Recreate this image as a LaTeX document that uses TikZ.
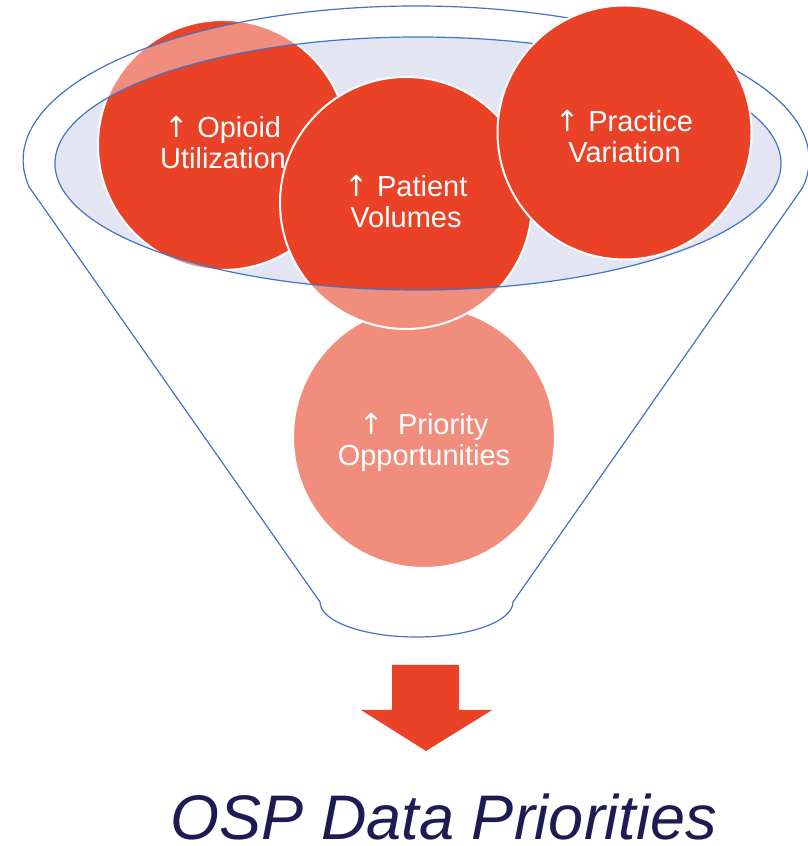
\documentclass[tikz,border=0pt]{standalone}
\usepackage{fontspec}
\setmainfont{Liberation Sans}
\newfontfamily\arrowfont{DejaVu Sans}
\newcommand\uparr{{\arrowfont ↑}}
\definecolor{osporange}{RGB}{233,66,38}
\definecolor{lavender}{RGB}{227,230,242}
\definecolor{funnelblue}{RGB}{68,114,196}
\definecolor{ospnavy}{RGB}{30,27,84}
\begin{document}
\begin{tikzpicture}[x=1pt,y=1pt,
  bubble/.style={circle, fill=osporange, draw=white, line width=2pt, inner sep=0pt},
  caption/.style={text=white, align=center, inner sep=0pt,
    font=\fontsize{29}{31}\selectfont},
  rim/.style={draw=funnelblue, line width=1.2pt},
  glass/.style={fill=white, fill opacity=0.4, even odd rule}]
\useasboundingbox (0,0) rectangle (808,846);

% mouth of the funnel
\fill[lavender] (418,682.5) ellipse[x radius=363pt, y radius=126.5pt];

% bubbles poured into the funnel
\node[bubble, minimum size=262pt] (priority) at (424,409) {};
\node[caption] (priority-text) at ([yshift=-5pt]priority.center)
  {\uparr\hspace{14pt}Priority\\Opportunities};
\node[bubble, minimum size=250pt] (opioid) at (223,701) {};
\node[caption] (opioid-text) at ([yshift=2pt]opioid.center) {\uparr{} Opioid\\Utilization};
\node[bubble, minimum size=252pt] (patient) at (406,643) {};
\node[caption] (patient-text) at ([yshift=1pt]patient.center) {\uparr{} Patient\\Volumes};

% translucent funnel body (rim band and cone)
\path[glass]
  (803,659) arc[start angle=-10.1, end angle=190.1, x radius=393pt, y radius=154pt]
  -- (320,244) arc[start angle=180, end angle=360, x radius=96.5pt, y radius=35pt]
  -- cycle
  (418,682.5) ellipse[x radius=363pt, y radius=126.5pt];

% funnel outline
\draw[rim]
  (803,659) arc[start angle=-10.1, end angle=190.1, x radius=393pt, y radius=154pt]
  -- (320,244) arc[start angle=180, end angle=360, x radius=96.5pt, y radius=35pt]
  -- cycle;
\draw[rim] (418,682.5) ellipse[x radius=363pt, y radius=126.5pt];

% bubble resting on top of the rim
\node[bubble, minimum size=254pt] (practice) at (624.5,713.5) {};
\node[caption] (practice-text) at ([yshift=-4pt]practice.center) {\uparr{} Practice\\Variation};

% output arrow
\fill[osporange] (392,181) -- (459,181) -- (459,136) -- (492,136) -- (426,95)
  -- (361,136) -- (392,136) -- cycle;

\node[anchor=base, text=ospnavy, inner sep=0pt,
  font=\fontsize{63}{70}\selectfont\itshape] (title) at (444,6) {OSP Data Priorities};
\end{tikzpicture}
\end{document}
